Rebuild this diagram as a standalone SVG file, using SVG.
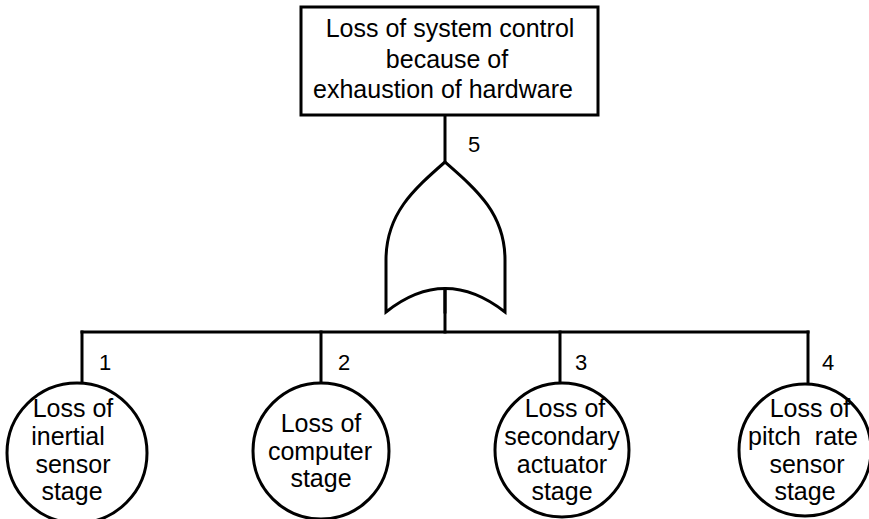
<svg xmlns="http://www.w3.org/2000/svg" width="869" height="519" viewBox="0 0 869 519">
<style>
.ln{fill:none;stroke:#000;stroke-width:3;stroke-linecap:square}
.sh{fill:#fff;stroke:#000;stroke-width:3}
.t{font-family:"Liberation Sans",Arial,sans-serif;font-size:25px;fill:#000;text-anchor:middle}
.n{font-family:"Liberation Sans",Arial,sans-serif;font-size:22px;fill:#000}
</style>
<rect width="869" height="519" fill="#fff"/>
<g id="connectors">
<line class="ln" x1="445" y1="115" x2="445" y2="162"/>
<line class="ln" x1="445" y1="289" x2="445" y2="332"/>
<line class="ln" x1="82" y1="332" x2="808" y2="332"/>
<line class="ln" x1="82" y1="332" x2="82" y2="383"/>
<line class="ln" x1="321" y1="332" x2="321" y2="383"/>
<line class="ln" x1="560" y1="332" x2="560" y2="383"/>
<line class="ln" x1="808" y1="332" x2="808" y2="383"/>
</g>
<g id="top">
<rect class="sh" x="301" y="7" width="297" height="108"/>
<text class="t" x="450" y="37">Loss of system control</text>
<text class="t" x="447" y="68">because of</text>
<text class="t" x="443" y="98">exhaustion of hardware</text>
</g>
<g id="gate5">
<path class="sh" stroke-linejoin="miter" d="M386,312 L386,260 C386,214 413,190 445,162 C477,190 505,214 505,260 L505,312 Q445,265 386,312 Z"/>
<line class="ln" x1="445" y1="289" x2="445" y2="312"/>
<text class="n" x="468" y="152">5</text>
</g>
<g id="event1">
<circle class="sh" cx="77" cy="453" r="70"/>
<text class="t" x="73" y="417">Loss of</text>
<text class="t" x="68" y="445">inertial</text>
<text class="t" x="73" y="473">sensor</text>
<text class="t" x="72" y="500">stage</text>
<text class="n" x="99" y="370">1</text>
</g>
<g id="event2">
<circle class="sh" cx="321" cy="451" r="68"/>
<text class="t" x="321" y="432">Loss of</text>
<text class="t" x="320" y="460">computer</text>
<text class="t" x="321" y="487">stage</text>
<text class="n" x="338" y="370">2</text>
</g>
<g id="event3">
<circle class="sh" cx="562" cy="450" r="67"/>
<text class="t" x="565" y="417">Loss of</text>
<text class="t" x="562" y="445">secondary</text>
<text class="t" x="562" y="473">actuator</text>
<text class="t" x="562" y="500">stage</text>
<text class="n" x="575" y="370">3</text>
</g>
<g id="event4">
<circle class="sh" cx="805" cy="450" r="66"/>
<text class="t" x="810" y="417">Loss of</text>
<text class="t" x="803" y="445" xml:space="preserve">pitch  rate</text>
<text class="t" x="807" y="473">sensor</text>
<text class="t" x="805" y="500">stage</text>
<text class="n" x="822" y="370">4</text>
</g>
</svg>
